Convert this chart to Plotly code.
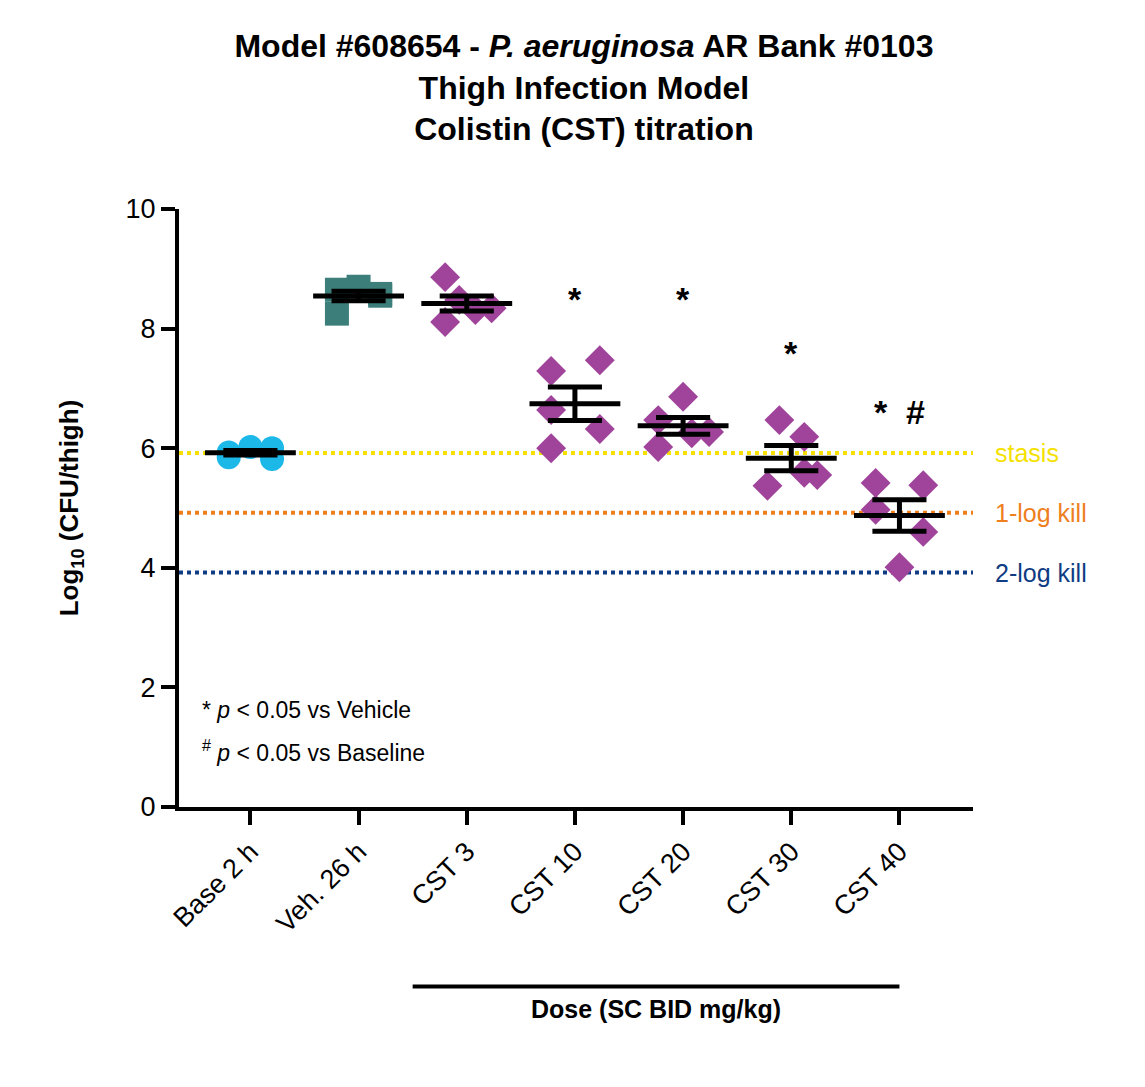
import plotly.graph_objects as go
import numpy as np

groups = ['Base 2 h', 'Veh. 26 h', 'CST 3', 'CST 10', 'CST 20', 'CST 30', 'CST 40']
values = [
    [5.85, 6.02, 6.0, 5.82, 5.93],
    [8.25, 8.65, 8.7, 8.55, 8.58],
    [8.86, 8.11, 8.48, 8.31, 8.34],
    [7.29, 7.47, 6.64, 6.32, 6.0],
    [6.86, 6.47, 6.02, 6.25, 6.27],
    [6.47, 6.19, 5.37, 5.59, 5.55],
    [5.42, 5.38, 4.97, 4.6, 4.01],
]
offsets = [
    [-0.2, 0.0, 0.2, 0.2, -0.2],
    [-0.2, -0.2, 0.0, 0.2, 0.2],
    [-0.2, -0.2, -0.07, 0.08, 0.23],
    [-0.22, 0.23, -0.22, 0.23, -0.22],
    [0.0, -0.23, -0.23, 0.08, 0.24],
    [-0.11, 0.12, -0.22, 0.12, 0.24],
    [-0.22, 0.22, -0.22, 0.22, 0.0],
]
markers = ['circle', 'square', 'diamond', 'diamond', 'diamond', 'diamond', 'diamond']
colors = ['#1BB8E8', '#3C7F7A', '#A0449B', '#A0449B', '#A0449B', '#A0449B', '#A0449B']
sig_labels = ['', '', '', '*', '*', '*', '*  #']
sig_y = [0, 0, 0, 8.5, 8.5, 7.6, 6.6]
ref_levels = [5.92, 4.92, 3.92]
ref_names = ['stasis', '1-log kill', '2-log kill']
ref_colors = ['#F5E100', '#EE7F1E', '#0F3C82']

fig = go.Figure()

# reference lines
for lvl, name, c in zip(ref_levels, ref_names, ref_colors):
    fig.add_trace(go.Scatter(x=[-0.66, 6.8], y=[lvl, lvl], mode='lines', cliponaxis=False,
                             line=dict(color=c, width=4, dash='dot'), showlegend=False))
    fig.add_annotation(x=1.025, xref='paper', y=lvl, text=name, showarrow=False, xanchor='left',
                       font=dict(size=25, color=c, family='Liberation Sans'))

for i, (g, v) in enumerate(zip(groups, values)):
    xs = [i + o for o in offsets[i]]
    fig.add_trace(go.Scatter(x=xs, y=v, mode='markers', showlegend=False,
                             marker=dict(symbol=markers[i], color=colors[i], size=24 if i < 2 else 23)))
    m = np.mean(v)
    sem = np.std(v, ddof=1) / np.sqrt(len(v))
    fig.add_trace(go.Scatter(x=[i - 0.42, i + 0.42], y=[m, m], mode='lines', showlegend=False,
                             line=dict(color='black', width=5)))
    fig.add_trace(go.Scatter(x=[i - 0.25, i + 0.25, None, i - 0.25, i + 0.25, None, i, i],
                             y=[m + sem, m + sem, None, m - sem, m - sem, None, m - sem, m + sem],
                             mode='lines', showlegend=False, line=dict(color='black', width=5)))
    if sig_labels[i]:
        fig.add_annotation(x=i, y=sig_y[i], text='<b>' + sig_labels[i] + '</b>', showarrow=False,
                           font=dict(size=34, color='black', family='Liberation Sans'))

fig.add_annotation(x=-0.47, y=1.63, text='* <i>p</i> < 0.05 vs Vehicle', showarrow=False, xanchor='left',
                   font=dict(size=23, color='black', family='Liberation Sans'))
fig.add_annotation(x=-0.47, y=0.93, text='<sup>#</sup> <i>p</i> < 0.05 vs Baseline', showarrow=False,
                   xanchor='left', font=dict(size=23, color='black', family='Liberation Sans'))

# dose bracket
fig.add_shape(type='line', xref='x', yref='paper', x0=1.5, x1=6.0, y0=-0.30, y1=-0.30,
              line=dict(color='black', width=4))
fig.add_annotation(x=3.75, xref='x', y=-0.365, yref='paper', text='<b>Dose (SC BID mg/kg)</b>',
                   showarrow=False, font=dict(size=25, color='black', family='Liberation Sans'))

fig.update_layout(
    width=1145, height=1087,
    margin=dict(l=171, r=180, t=201, b=288),
    plot_bgcolor='white', paper_bgcolor='white',
    title=dict(text='<b>Model #608654 - <i>P. aeruginosa</i> AR Bank #0103<br>Thigh Infection Model<br>'
                    'Colistin (CST) titration</b>',
               x=0.503, xanchor='center', y=0.955, yanchor='top',
               font=dict(size=32, color='black', family='Liberation Sans')),
    xaxis=dict(range=[-0.66, 6.68], tickvals=list(range(len(groups))), ticktext=groups,
               tickangle=-45, ticks='outside', ticklen=14, tickwidth=4, tickcolor='black',
               showline=True, linecolor='black', linewidth=4, showgrid=False, zeroline=False,
               tickfont=dict(size=27, color='black', family='Liberation Sans')),
    yaxis=dict(range=[0, 10], tickvals=[0, 2, 4, 6, 8, 10], ticks='outside', ticklen=14, tickwidth=4,
               tickcolor='black', showline=True, linecolor='black', linewidth=4, showgrid=False,
               zeroline=False, tickfont=dict(size=27, color='black', family='Liberation Sans'),
               title=dict(text='<b>Log<sub>10</sub> (CFU/thigh)</b>', standoff=40,
                          font=dict(size=26, color='black', family='Liberation Sans'))),
)

fig.write_html('out.html')
